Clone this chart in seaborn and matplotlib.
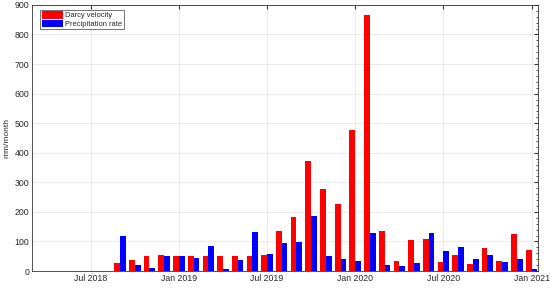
import numpy as np
import pandas as pd
import matplotlib
matplotlib.use("Agg")
import matplotlib.pyplot as plt
import seaborn as sns
from matplotlib.ticker import MultipleLocator

# monthly values, Sep 2018 .. Jan 2021
months = pd.date_range("2018-09-01", "2021-01-01", freq="MS")
darcy = [26, 37, 52, 53, 50, 50, 51, 52, 52, 52, 53,
         135, 184, 372, 276, 227, 477, 866, 135, 33, 106, 109,
         30, 53, 23, 77, 34, 124, 70]
precip = [117, 22, 10, 50, 50, 45, 86, 7, 36, 131, 57,
          94, 99, 186, 51, 39, 35, 127, 20, 17, 28, 129,
          68, 81, 41, 54, 32, 41, 8]

# x axis spans from Mar 2018
all_months = pd.date_range("2018-03-01", "2021-01-01", freq="MS")
order = [m.strftime("%Y-%m") for m in all_months]
tick_dates = ["2018-07", "2019-01", "2019-07", "2020-01", "2020-07", "2021-01"]
tick_labels = ["Jul 2018", "Jan 2019", "Jul 2019", "Jan 2020", "Jul 2020", "Jan 2021"]

df = pd.DataFrame({
    "month": [m.strftime("%Y-%m") for m in months] * 2,
    "value": darcy + precip,
    "series": ["Darcy velocity"] * len(months) + ["Precipitation rate"] * len(months),
})

sns.set_style("white")
plt.rcParams["font.family"] = ["Liberation Sans", "DejaVu Sans"]

fig = plt.figure(figsize=(5.5, 2.88), dpi=100)
ax = fig.add_axes([0.058, 0.059, 0.92, 0.924])

sns.barplot(data=df, x="month", y="value", hue="series", order=order,
            palette={"Darcy velocity": "#ff0000", "Precipitation rate": "#0000ff"},
            width=0.78, gap=0, linewidth=0, saturation=1, errorbar=None, ax=ax)

ax.set_xlim(0, len(order) - 1 + 0.43)
ax.set_ylim(0, 900)
ax.set_xticks([order.index(t) for t in tick_dates])
ax.set_xticklabels(tick_labels)
ax.yaxis.set_major_locator(MultipleLocator(100))
ax.yaxis.set_minor_locator(MultipleLocator(20))
ax.set_xlabel("")
ax.set_ylabel("mm/month", fontsize=6, labelpad=3)
ax.tick_params(axis="both", which="both", direction="in", labelsize=6.3,
               top=True, right=True, color="#333333", pad=2)
ax.tick_params(axis="both", which="major", length=3)
ax.tick_params(axis="y", which="minor", length=1.5)
ax.grid(True, color="#e6e6e6", linewidth=0.6)
ax.set_axisbelow(True)
for s in ax.spines.values():
    s.set_color("#333333")
    s.set_linewidth(0.6)

leg = ax.legend(loc="upper left", fontsize=5.4, frameon=True, fancybox=False,
                edgecolor="#333333", handlelength=2.9, handleheight=1.1,
                borderpad=0.2, labelspacing=0.05, handletextpad=0.2,
                borderaxespad=0.3, bbox_to_anchor=(0.012, 0.99))
leg.get_frame().set_linewidth(0.6)

fig.savefig("out.png", dpi=100)
